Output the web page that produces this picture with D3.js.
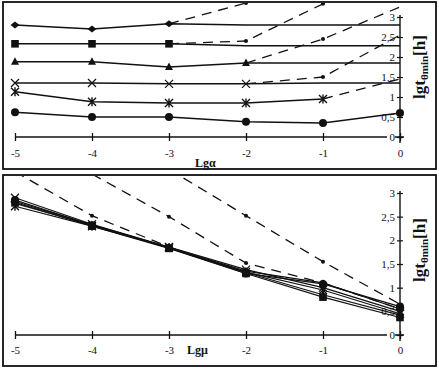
<!DOCTYPE html>
<html><head><meta charset="utf-8">
<script src="https://cdn.jsdelivr.net/npm/d3@7"></script>
<style>body{margin:0;background:#fff}svg{display:block}text{font-family:"Liberation Serif","DejaVu Serif",serif;fill:#111}</style>
</head><body>
<svg id="c" width="439" height="369"></svg>
<script>
// ---- data ----
const xVals = [-5, -4, -3, -2, -1, 0];
const yTickVals = [0, 0.5, 1, 1.5, 2, 2.5, 3];
const seriesNames = ["diamond", "square", "triangle", "cross", "star", "circle"];

// top panel (Lgα): solid series
const topDiamond  = [2.8, 2.7, 2.83, 2.8, 2.8, 2.8];
const topSquare   = [2.33, 2.33, 2.33, 2.28, 2.28, 2.28];
const topTriangle = [1.88, 1.88, 1.75, 1.85, 1.85, 1.85];
const topCross    = [1.35, 1.35, 1.33, 1.33, 1.35, 1.35];
const topStar     = [1.13, 0.88, 0.85, 0.85, 0.95, null];
const topCircle   = [0.62, 0.5, 0.5, 0.38, 0.35, 0.6];
const topMarkerCount = [3, 3, 4, 4, 5, 6];
// top panel: dashed branches
const topDashDiamond  = [null, null, 2.83, 3.35, 3.9, null];
const topDashSquare   = [null, null, 2.33, 2.4, 3.33, 4.2];
const topDashTriangle = [null, null, null, 1.85, 2.45, 3.25];
const topDashCross    = [null, null, null, 1.33, 1.5, 2.55];
const topDashStar     = [null, null, null, null, 0.95, 1.45];

// bottom panel (Lgμ): solid series
const botDiamond  = [2.82, 2.33, 1.85, 1.35, 1.1, 0.55];
const botSquare   = [2.8, 2.3, 1.83, 1.3, 0.8, 0.37];
const botTriangle = [2.78, 2.32, 1.84, 1.32, 0.85, 0.42];
const botCross    = [2.9, 2.34, 1.86, 1.38, 1.0, 0.5];
const botStar     = [2.72, 2.3, 1.85, 1.33, 0.95, 0.45];
const botCircle   = [2.85, 2.32, 1.84, 1.3, 1.08, 0.6];
// bottom panel: dashed lines
const botDashA = [3.45, 2.52, 1.86, null, null, null];
const botDashB = [null, 3.4, 2.5, 1.52, 1.1, 0.55];
const botDashC = [null, null, 3.5, 2.52, 1.55, 0.65];

// ---- drawing ----
const svg = d3.select("#c");
const x = d3.scaleLinear().domain([-5, 0]).range([15, 400]);

function marker(g, type, cx, cy) {
  const s = g.append("g").attr("transform", `translate(${cx},${cy})`);
  if (type === "diamond") s.append("path").attr("d", "M-4.5,0L0,-3.5L4.5,0L0,3.5Z").attr("fill", "#111");
  else if (type === "square") s.append("rect").attr("x", -3.8).attr("y", -3.8).attr("width", 7.6).attr("height", 7.6).attr("fill", "#111");
  else if (type === "triangle") s.append("path").attr("d", "M0,-4.5L4,3L-4,3Z").attr("fill", "#111");
  else if (type === "circle") s.append("circle").attr("r", 4).attr("fill", "#111");
  else if (type === "cross") s.append("path").attr("d", "M-4,-4L4,4M-4,4L4,-4").attr("stroke", "#111").attr("stroke-width", 1.2);
  else if (type === "star") s.append("path").attr("d", "M-4,-4L4,4M-4,4L4,-4M0,-4.5L0,4.5").attr("stroke", "#111").attr("stroke-width", 1.4);
}

function panel(cfg) {
  const y = d3.scaleLinear().domain([0, 3]).range([cfg.y0, cfg.y3]);
  const g = svg.append("g");
  const clipId = "clip" + cfg.id;
  svg.append("clipPath").attr("id", clipId).append("rect")
    .attr("x", cfg.fx + 1).attr("y", cfg.fy + 1).attr("width", cfg.fw - 2).attr("height", cfg.fh - 2);
  // frame
  g.append("rect").attr("x", cfg.fx).attr("y", cfg.fy).attr("width", cfg.fw).attr("height", cfg.fh)
    .attr("fill", "none").attr("stroke", "#111").attr("stroke-width", 1.8);

  // x baseline axis (value 0)
  const xa = g.append("g").attr("transform", `translate(0,${y(0)})`)
    .call(d3.axisBottom(x).tickValues(xVals).tickSize(5).tickFormat(d => d === 0 ? "0" : String(d)));
  xa.select(".domain").attr("d", `M${x(-5)},0H${x(0) + 4}`).attr("stroke", "#111").attr("stroke-width", 1.5);
  xa.selectAll(".tick line").attr("y1", -4).attr("y2", 4).attr("stroke", "#111").attr("stroke-width", 1.3);
  xa.selectAll(".tick text").attr("y", cfg.xLabDy).attr("dy", 0).attr("font-size", 11)
    .attr("font-family", "Liberation Serif, serif").attr("fill", "#111");

  // y axis at right (x = 0)
  const ya = g.append("g").attr("transform", `translate(${x(0)},0)`)
    .call(d3.axisLeft(y).tickValues(yTickVals).tickSize(4).tickPadding(4)
      .tickFormat(d => String(d).replace(".", ",")));
  ya.select(".domain").attr("d", `M0,${y(3) - 2}V${y(0) + 6}`).attr("stroke", "#111").attr("stroke-width", 1.4);
  ya.selectAll(".tick line").attr("x1", -3).attr("x2", 3).attr("stroke", "#111").attr("stroke-width", 1.2);
  ya.selectAll(".tick text").attr("font-size", 11).attr("font-family", "Liberation Serif, serif").attr("fill", "#111")
    .attr("x", -5);
  // white gap behind "0" on the baseline
  ya.selectAll(".tick").filter(d => d === 0).insert("rect", "text")
    .attr("x", -13).attr("y", -5).attr("width", 8).attr("height", 10).attr("fill", "#fff");

  const plot = g.append("g").attr("clip-path", `url(#${clipId})`);
  const line = d3.line().defined(d => d[1] != null).x(d => x(d[0])).y(d => y(d[1]));

  // dashed lines
  cfg.dashed.forEach(arr => {
    const pts = xVals.map((v, i) => [v, arr[i]]);
    plot.append("path").attr("d", line(pts)).attr("fill", "none").attr("stroke", "#111")
      .attr("stroke-width", 1.3).attr("stroke-dasharray", "10,7");
    const first = arr.findIndex(v => v != null);
    pts.forEach((p, i) => {
      if (p[1] != null && i !== first && cfg.dashDots(i, arr))
        plot.append("circle").attr("cx", x(p[0])).attr("cy", y(p[1])).attr("r", 2).attr("fill", "#111");
    });
  });

  // solid series
  cfg.solid.forEach((arr, k) => {
    const pts = xVals.map((v, i) => [v, arr[i]]);
    plot.append("path").attr("d", line(pts)).attr("fill", "none").attr("stroke", "#111").attr("stroke-width", cfg.sw);
  });
  cfg.solid.forEach((arr, k) => {
    const n = cfg.markerCount ? cfg.markerCount[k] : 6;
    for (let i = 0; i < n; i++) if (arr[i] != null) marker(plot, seriesNames[k], x(xVals[i]), y(arr[i]));
  });

  // axis titles
  g.append("text").attr("x", cfg.xtX).attr("y", cfg.xtY).attr("font-size", 12).attr("font-weight", "bold")
    .text(cfg.xTitle);
  const t = g.append("text").attr("transform", `translate(425,${cfg.ytY}) rotate(-90)`)
    .attr("text-anchor", "middle").attr("font-size", 17).attr("font-weight", "bold");
  t.append("tspan").text("lgt");
  t.append("tspan").attr("font-size", 11).attr("dy", 3).text("θmin");
  t.append("tspan").attr("dy", -3).text("[h]");
}

panel({
  id: "top", fx: 3, fy: 2, fw: 433, fh: 167, y0: 137, y3: 17,
  xLabDy: 20, xTitle: "Lgα", xtX: 195, xtY: 167, ytY: 67, sw: 1.4,
  solid: [topDiamond, topSquare, topTriangle, topCross, topStar, topCircle],
  markerCount: topMarkerCount,
  dashed: [topDashDiamond, topDashSquare, topDashTriangle, topDashCross, topDashStar],
  dashDots: (i) => i === 3 || i === 4
});
panel({
  id: "bot", fx: 3, fy: 175, fw: 433, fh: 191, y0: 335, y3: 193,
  xLabDy: 19, xTitle: "Lgμ", xtX: 187, xtY: 354, ytY: 250, sw: 1.2,
  solid: [botDiamond, botSquare, botTriangle, botCross, botStar, botCircle],
  dashed: [botDashA, botDashB, botDashC],
  dashDots: (i, arr) => arr[i] > 1.4 && arr[i] < 3
});
</script>
</body></html>
